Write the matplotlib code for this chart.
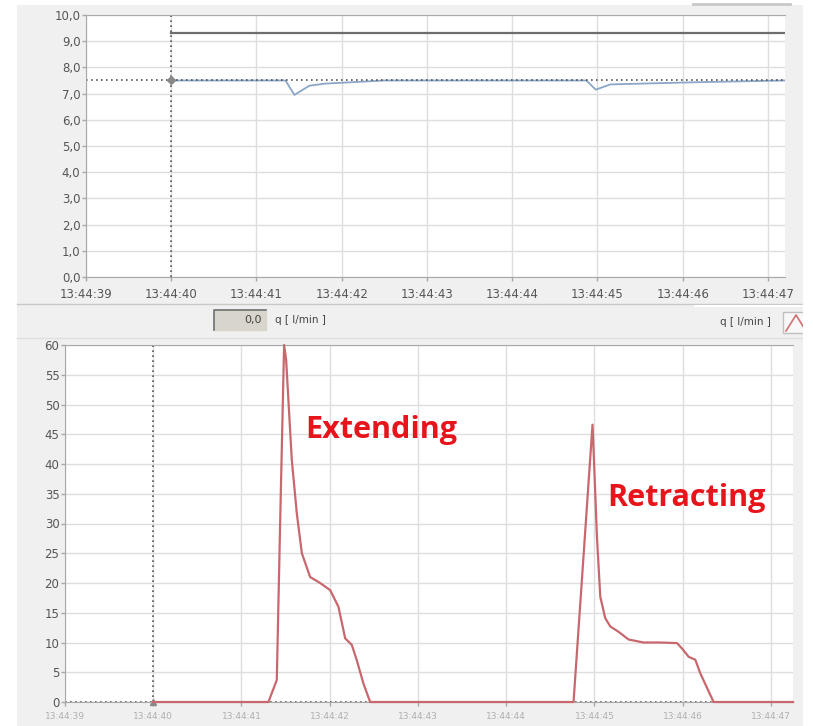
import matplotlib.pyplot as plt
from matplotlib.patches import Rectangle
from matplotlib.lines import Line2D

# time axis: seconds after 13:44:00
tick_secs = [39, 40, 41, 42, 43, 44, 45, 46, 47]
tick_labels = ["13:44:39", "13:44:40", "13:44:41", "13:44:42", "13:44:43",
               "13:44:44", "13:44:45", "13:44:46", "13:44:47"]
top_yticks = [0, 1, 2, 3, 4, 5, 6, 7, 8, 9, 10]
top_ylabels = ["0,0", "1,0", "2,0", "3,0", "4,0", "5,0", "6,0", "7,0", "8,0", "9,0", "10,0"]
bot_yticks = [0, 5, 10, 15, 20, 25, 30, 35, 40, 45, 50, 55, 60]

# upper chart
upper_t = [40.0, 47.2]
upper_v = [9.3, 9.3]
setpoint_t = [39.0, 47.2]
setpoint_v = [7.5, 7.5]
actual_t = [40.0, 41.34, 41.445, 41.62, 41.8, 42.5, 44.87, 44.98, 45.15, 45.98, 46.4, 47.2]
actual_v = [7.5, 7.5, 6.95, 7.3, 7.38, 7.5, 7.5, 7.15, 7.35, 7.42, 7.45, 7.5]

# lower chart: flow q [l/min]
flow_t = [40.0, 41.305, 41.40, 41.438, 41.483, 41.506, 41.57, 41.627, 41.684, 41.778,
          41.891, 42.005, 42.099, 42.175, 42.25, 42.307, 42.382, 42.458,
          44.763, 44.978, 44.99, 45.028, 45.066, 45.122, 45.179, 45.273, 45.387,
          45.557, 45.746, 45.935, 45.992, 46.067, 46.143, 46.2, 46.35, 47.25]
flow_v = [0, 0, 3.7, 30, 60, 57.5, 40.7, 31.7, 25, 21,
          20, 18.8, 16, 10.7, 9.6, 7, 3.1, 0,
          0, 46.6, 42.4, 27.8, 17.7, 14.1, 12.7, 11.8, 10.5,
          10.0, 10.0, 9.9, 9.0, 7.6, 7.1, 4.8, 0, 0]

W, H = 813, 726
fig = plt.figure(figsize=(W / 100, H / 100), dpi=100)
fig.patch.set_facecolor("white")

def fx(px):
    return px / W

def fy(py):
    return 1 - py / H

# gray panel background
fig.patches.append(Rectangle((fx(17), 0), 1 - fx(17), fy(5), transform=fig.transFigure,
                             facecolor="#f0f0f0", edgecolor="none", zorder=-10))
fig.add_artist(Line2D([fx(693), fx(790)], [fy(4), fy(4)], color="#c8c8c8", lw=2))

grid_c = "#dedede"
spine_c = "#a8a8a8"
label_c = "#555555"

# ---------------- top chart ----------------
ax1 = fig.add_axes([fx(86), fy(277), fx(785) - fx(86), fy(15) - fy(277)])
ax1.set_xlim(39, 47.2)
ax1.set_ylim(0, 10)
ax1.set_xticks(tick_secs)
ax1.set_xticklabels(tick_labels)
ax1.set_yticks(top_yticks)
ax1.set_yticklabels(top_ylabels)
ax1.grid(True, color=grid_c, lw=1)
ax1.set_axisbelow(True)
ax1.tick_params(axis="both", colors=spine_c, labelcolor=label_c, labelsize=8.5,
                length=3, width=1)
ax1.tick_params(axis="x", pad=5)
ax1.tick_params(axis="y", pad=1)
for s in ["left", "top", "bottom"]:
    ax1.spines[s].set_color(spine_c)
ax1.spines["right"].set_visible(False)

ax1.plot(upper_t, upper_v, color="#6e6e6e", lw=1.6)
ax1.plot(actual_t, actual_v, color="#8aa6c8", lw=1.3)
ax1.plot(setpoint_t, setpoint_v, color="#555555", lw=1.2, ls=(0, (1, 2)))
ax1.axvline(40, color="#555555", lw=1.2, ls=(0, (1, 2)))
ax1.plot([40], [7.5], marker="D", ms=4, color="#888888")

# ---------------- middle strip ----------------
fig.add_artist(Line2D([fx(17), 1], [fy(304), fy(304)], color="#c8c8c8", lw=1))
fig.add_artist(Line2D([fx(17), 1], [fy(338), fy(338)], color="#e0e0e0", lw=1))
fig.patches.append(Rectangle((fx(214), fy(330)), fx(266) - fx(214), fy(310) - fy(330),
                             transform=fig.transFigure, facecolor="#d8d5cc",
                             edgecolor="#d8d5cc", zorder=1))
fig.add_artist(Line2D([fx(214), fx(214), fx(266)], [fy(330), fy(310), fy(310)],
                      color="#707070", lw=1.2))
fig.text(fx(262), fy(320), "0,0", ha="right", va="center", fontsize=8, color="#444444")
fig.text(fx(275), fy(320), "q [ l/min ]", ha="left", va="center", fontsize=7.5,
         color="#444444")
fig.add_artist(Line2D([fx(695), 1], [fy(306), fy(306)], color="#ffffff", lw=1.5))
fig.text(fx(771), fy(322), "q [ l/min ]", ha="right", va="center", fontsize=7.5,
         color="#444444")
fig.patches.append(Rectangle((fx(783), fy(333)), fx(813) - fx(783), fy(312) - fy(333),
                             transform=fig.transFigure, facecolor="#f8f8f8",
                             edgecolor="#c0c0c0", lw=1))
fig.add_artist(Line2D([fx(786), fx(796), fx(806)], [fy(331), fy(315), fy(331)],
                      color="#d07070", lw=1.2))

# ---------------- bottom chart ----------------
ax2 = fig.add_axes([fx(65), fy(702), fx(793) - fx(65), fy(345) - fy(702)])
ax2.set_xlim(39, 47.25)
ax2.set_ylim(0, 60)
ax2.set_xticks(tick_secs)
ax2.set_xticklabels(tick_labels)
ax2.set_yticks(bot_yticks)
ax2.grid(True, color=grid_c, lw=1)
ax2.set_axisbelow(True)
ax2.tick_params(axis="y", colors=spine_c, labelcolor=label_c, labelsize=8.5,
                length=3, width=1, pad=1)
ax2.tick_params(axis="x", colors=spine_c, labelcolor="#b0b0b0", labelsize=6.5,
                length=3, width=1, pad=4)
for s in ["left", "top", "bottom"]:
    ax2.spines[s].set_color(spine_c)
ax2.spines["right"].set_visible(False)

ax2.plot([39, 47.25], [0, 0], color="#555555", lw=1.2, ls=(0, (1, 2)), clip_on=False)
ax2.plot(flow_t, flow_v, color="#c8686e", lw=1.6, clip_on=False, zorder=3)
ax2.axvline(40, color="#555555", lw=1.2, ls=(0, (1, 2)))
ax2.plot([40], [0], marker="^", ms=4, color="#888888", clip_on=False)

ax2.text(41.72, 45.7, "Extending", color="#e8141b", fontsize=22, fontweight="bold",
         family="Open Sans", ha="left", va="center")
ax2.text(45.14, 34.3, "Retracting", color="#e8141b", fontsize=22, fontweight="bold",
         family="Open Sans", ha="left", va="center")

# window edge cut-off on the right
fig.patches.append(Rectangle((fx(803), 0), 1 - fx(803), 1, transform=fig.transFigure,
                             facecolor="white", edgecolor="none", zorder=20))

fig.savefig("out.png", dpi=100)
